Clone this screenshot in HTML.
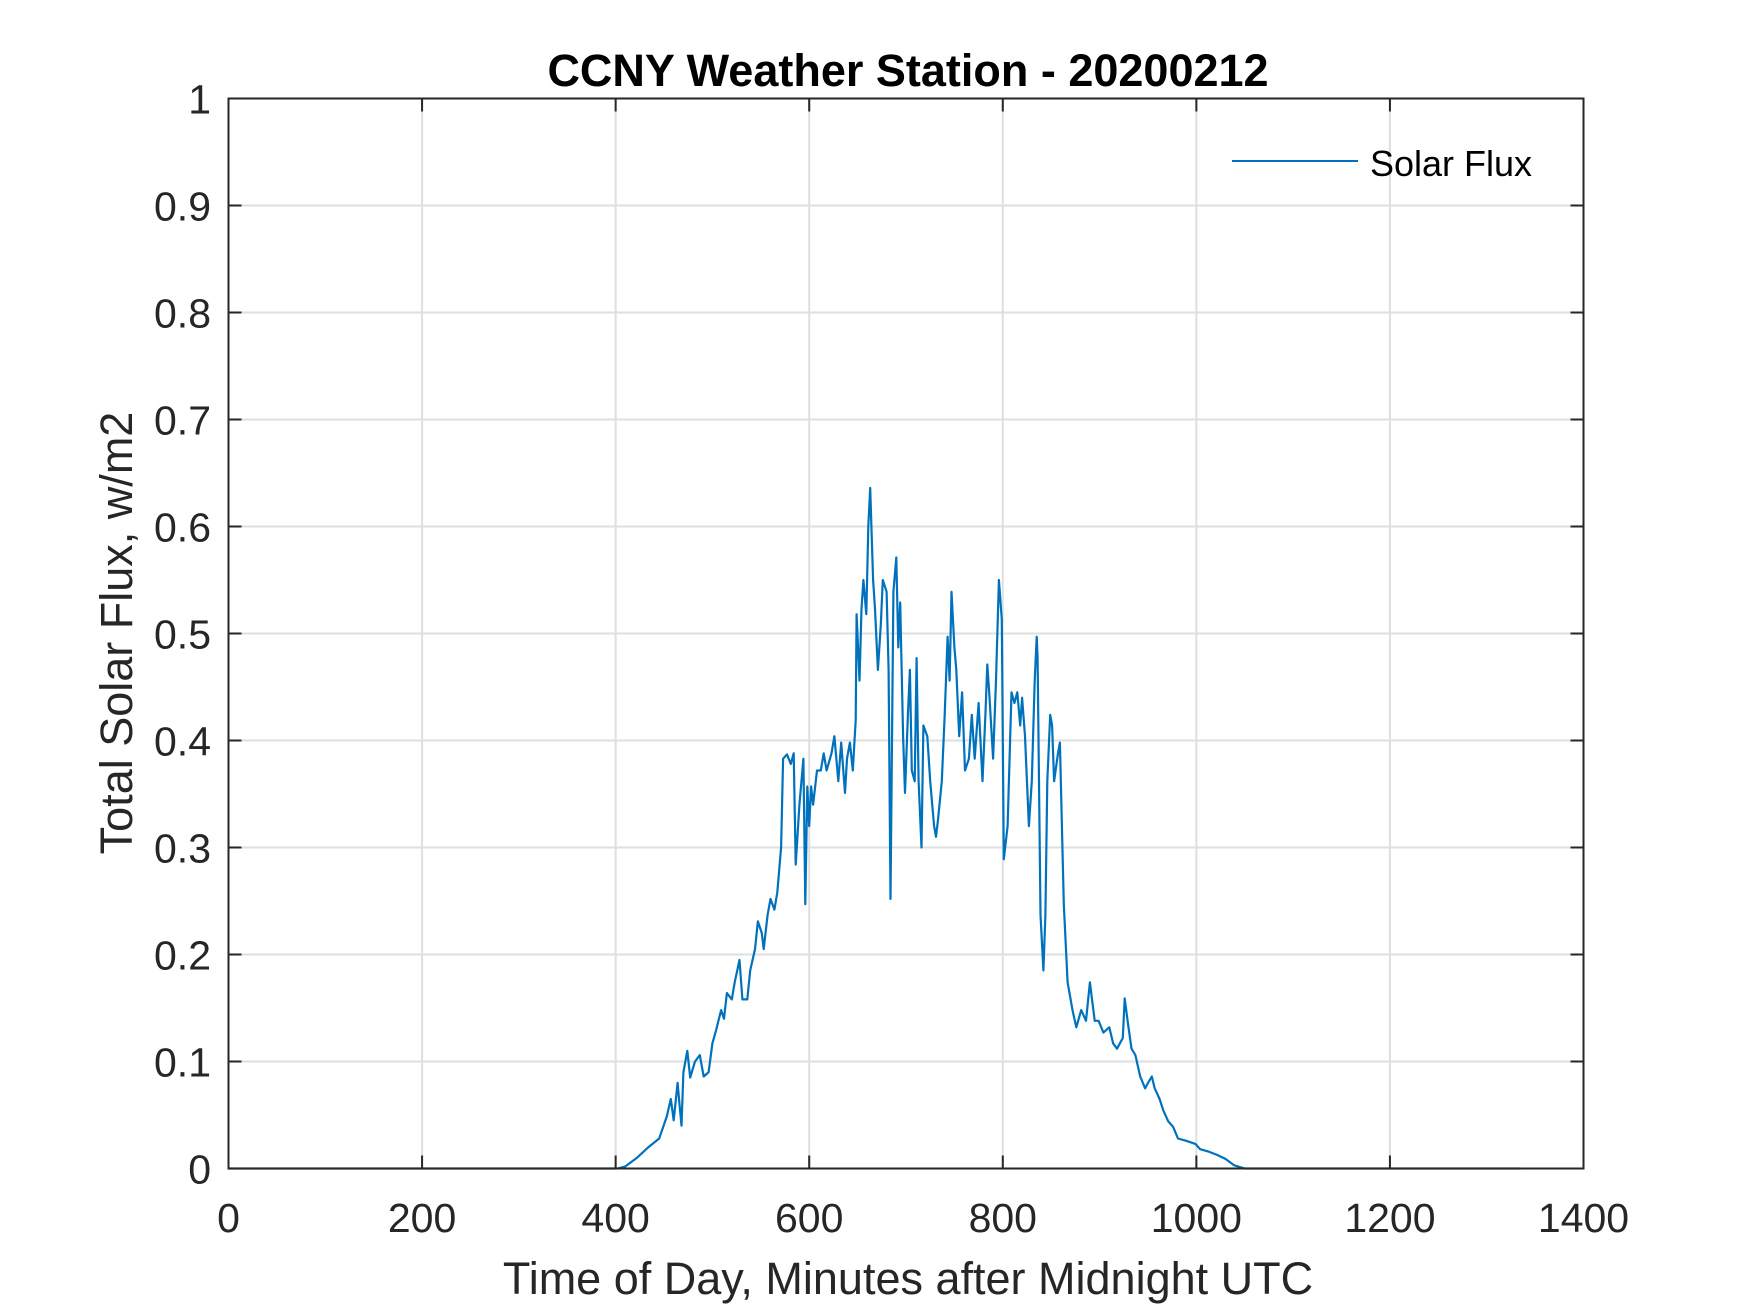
<!DOCTYPE html>
<html><head><meta charset="utf-8"><style>
html,body{margin:0;padding:0;background:#fff;}
svg{display:block;font-family:"Liberation Sans",Arial,sans-serif;}
</style></head><body>
<svg id="chart" width="1750" height="1313" viewBox="0 0 1750 1313" xmlns="http://www.w3.org/2000/svg">
<rect x="0" y="0" width="1750" height="1313" fill="#fff"/>
<g id="grid"></g>
<g id="series"></g>
<rect x="228.5" y="98.5" width="1355" height="1070" fill="none" stroke="#262626" stroke-width="2"/>
<g id="ticks"></g>
<text x="908" y="86" text-anchor="middle" font-size="45" font-weight="bold" fill="#000">CCNY Weather Station - 20200212</text>
<text x="908" y="1294" text-anchor="middle" font-size="45" fill="#262626">Time of Day, Minutes after Midnight UTC</text>
<text transform="translate(132,633) rotate(-90)" text-anchor="middle" font-size="45" fill="#262626">Total Solar Flux, w/m2</text>
<g>
<line x1="1232" y1="161" x2="1358" y2="161" stroke="#0072BD" stroke-width="2"/>
<text x="1370" y="176" font-size="36" fill="#000">Solar Flux</text>
</g>
</svg>
<script>
const xTicks=[0,200,400,600,800,1000,1200,1400];
const yTicks=[0,0.1,0.2,0.3,0.4,0.5,0.6,0.7,0.8,0.9,1];
const yTickLabels=["0","0.1","0.2","0.3","0.4","0.5","0.6","0.7","0.8","0.9","1"];
const minutes=[0,402,410,422,434,445,453,457,460,464,466,468,470,474,477,482,487,491,496,500,504,509,512,515,520,523,528,531,536,539,544,547,551,553,557,560,564,567,571,573,577,581,584,586,590,594,596,598,600,602,604,608,612,615,618,623,626,630,633,637,639,642,645,648,649,652,654,656,659,661,663,666,668,671,674,676,680,682,684,687,690,692,694,697,699,702,704,706,709,711,713,716,718,722,725,729,731,733,737,740,743,745,747,750,752,755,758,761,765,768,771,775,779,782,784,786,790,793,796,799,801,805,809,812,815,818,820,823,827,830,833,835,836,839,842,844,846,849,851,853,857,859,863,867,872,876,881,886,890,895,899,904,910,914,918,924,926,929,933,937,942,947,950,954,957,962,966,971,976,981,989,999,1004,1012,1022,1030,1039,1050,1335];
const flux=[0,0,0.002,0.01,0.02,0.028,0.049,0.065,0.045,0.08,0.06,0.04,0.09,0.11,0.085,0.10,0.106,0.086,0.09,0.117,0.13,0.148,0.14,0.164,0.158,0.174,0.195,0.158,0.158,0.185,0.205,0.231,0.22,0.205,0.237,0.252,0.242,0.258,0.30,0.383,0.387,0.378,0.388,0.284,0.341,0.383,0.247,0.357,0.32,0.357,0.34,0.372,0.372,0.388,0.372,0.388,0.404,0.362,0.398,0.351,0.383,0.398,0.372,0.419,0.518,0.456,0.523,0.55,0.518,0.60,0.636,0.55,0.523,0.466,0.508,0.55,0.539,0.466,0.252,0.539,0.571,0.487,0.529,0.404,0.351,0.424,0.466,0.372,0.362,0.477,0.362,0.30,0.414,0.404,0.362,0.32,0.31,0.325,0.362,0.424,0.497,0.456,0.539,0.487,0.466,0.404,0.445,0.372,0.383,0.424,0.383,0.435,0.362,0.424,0.471,0.445,0.383,0.456,0.55,0.513,0.289,0.32,0.445,0.435,0.445,0.414,0.44,0.404,0.32,0.362,0.456,0.497,0.477,0.237,0.185,0.237,0.362,0.424,0.414,0.362,0.388,0.398,0.247,0.174,0.148,0.132,0.148,0.138,0.174,0.138,0.138,0.127,0.132,0.117,0.112,0.122,0.159,0.138,0.112,0.106,0.086,0.075,0.08,0.086,0.075,0.065,0.054,0.044,0.039,0.028,0.026,0.023,0.018,0.016,0.0125,0.009,0.003,0,0];
const NS="http://www.w3.org/2000/svg";
const X0=228.5,X1=1583.5,Y0=1168.5,Y1=98.5;
function xs(m){return X0+(m-0)/(1400-0)*(X1-X0);}
function ys(v){return Y0-(v-0)/(1-0)*(Y0-Y1);}
const grid=document.getElementById('grid'),ticks=document.getElementById('ticks'),series=document.getElementById('series');
function mk(tag,attrs,parent){const e=document.createElementNS(NS,tag);for(const k in attrs)e.setAttribute(k,attrs[k]);parent.appendChild(e);return e;}
xTicks.forEach(function(t){
  const x=xs(t);
  if(t>0&&t<1400){const g=mk('line',{x1:x,y1:Y1,x2:x,y2:Y0,stroke:'#dfdfdf','stroke-width':2},grid);
  
  }
  const a=mk('line',{x1:x,y1:Y0,x2:x,y2:Y0-13,stroke:'#262626','stroke-width':2},ticks);
  
  
  const b=mk('line',{x1:x,y1:Y1,x2:x,y2:Y1+13,stroke:'#262626','stroke-width':2},ticks);
  
  
  const tx=mk('text',{x:x,y:1232,'text-anchor':'middle','font-size':41,fill:'#262626'},ticks);
  tx.textContent=String(t);
  
  
});
yTicks.forEach(function(t,i){
  const y=ys(t);
  if(t>0&&t<1){const g=mk('line',{x1:X0,y1:y,x2:X1,y2:y,stroke:'#dfdfdf','stroke-width':2},grid);
  
  }
  const a=mk('line',{x1:X0,y1:y,x2:X0+13,y2:y,stroke:'#262626','stroke-width':2},ticks);
  
  
  const b=mk('line',{x1:X1,y1:y,x2:X1-13,y2:y,stroke:'#262626','stroke-width':2},ticks);
  
  
  const tx=mk('text',{x:211,y:y+15,'text-anchor':'end','font-size':41,fill:'#262626'},ticks);
  tx.textContent=yTickLabels[i];
  
  
});
let d='';
minutes.forEach(function(m,i){d+=(i?'L':'M')+xs(m).toFixed(1)+' '+ys(flux[i]).toFixed(1);});
const p=mk('path',{d:d,fill:'none',stroke:'#0072BD','stroke-width':2.2,'stroke-linejoin':'round'},series);


</script>
</body></html>
